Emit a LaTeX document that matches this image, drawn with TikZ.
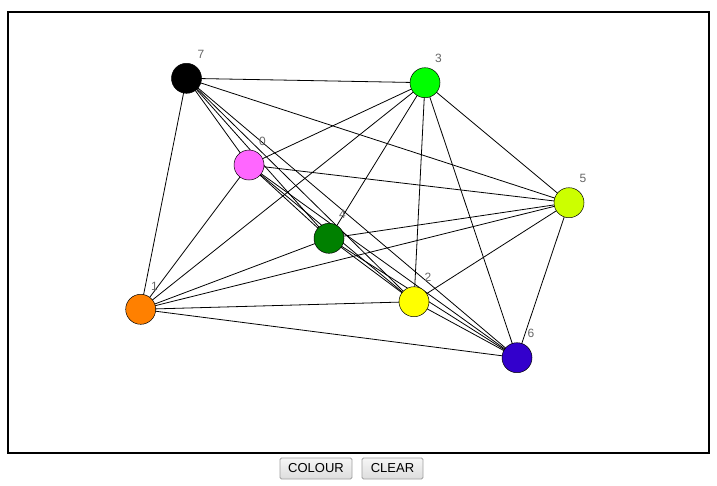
\documentclass[tikz,border=0pt]{standalone}
\usepackage{fontspec}
\setmainfont{Liberation Sans}
\usetikzlibrary{backgrounds}
\definecolor{c7}{HTML}{000000}
\definecolor{c3}{HTML}{00FF00}
\definecolor{c0}{HTML}{FF66FF}
\definecolor{c5}{HTML}{CCFF00}
\definecolor{c4}{HTML}{008000}
\definecolor{c2}{HTML}{FFFF00}
\definecolor{c1}{HTML}{FF8000}
\definecolor{c6}{HTML}{3300CC}
\definecolor{lblgray}{HTML}{666666}
\definecolor{btnborder}{HTML}{A0A0A0}
\definecolor{btntop}{HTML}{F6F6F6}
\definecolor{btnbot}{HTML}{DDDDDD}
\begin{document}
\begin{tikzpicture}[x=1pt,y=-1pt,
  vtx/.style={circle,draw=black,line width=0.5pt,minimum size=30pt,inner sep=0pt},
  vlabel/.style={text=lblgray,font=\fontsize{12}{12}\selectfont,inner sep=0pt},
  edge/.style={draw=black,line width=0.8pt},
  frame/.style={draw=black,line width=2pt},
  btn/.style={draw=btnborder,line width=0.8pt,rounded corners=1.5pt,top color=btntop,bottom color=btnbot,
    font=\fontsize{13}{13}\selectfont,text=black,inner sep=0pt,minimum height=21pt}]
\useasboundingbox (0,0) rectangle (717,485);
\node[frame,minimum width=701pt,minimum height=441pt,inner sep=0pt] (frm) at (358,232) {};
% vertices
\node[vtx,fill=c7] (n7) at (186.5,78.3) {};
\node[vtx,fill=c3] (n3) at (425,82.7) {};
\node[vtx,fill=c0] (n0) at (249,165) {};
\node[vtx,fill=c5] (n5) at (569,202.7) {};
\node[vtx,fill=c4] (n4) at (329,238.3) {};
\node[vtx,fill=c2] (n2) at (414,301.7) {};
\node[vtx,fill=c1] (n1) at (140.7,309.3) {};
\node[vtx,fill=c6] (n6) at (517,357.7) {};
% labels
\node[vlabel] (l7) at (201,54) {7};
\node[vlabel] (l3) at (438.5,58) {3};
\node[vlabel] (l0) at (262.5,141) {0};
\node[vlabel] (l5) at (583,178) {5};
\node[vlabel] (l4) at (342.5,214) {4};
\node[vlabel] (l2) at (428,277) {2};
\node[vlabel] (l1) at (154.5,286) {1};
\node[vlabel] (l6) at (531,333) {6};
% edges
\begin{scope}[on background layer]
\foreach \a/\b in {7/3,7/5,7/1,7/0,7/4,7/2,7/6,
                   3/0,3/1,3/4,3/2,3/6,3/5,
                   0/5,0/1,0/4,0/2,0/6,
                   5/4,5/1,5/2,5/6,
                   4/1,4/2,4/6,
                   1/2,1/6,
                   2/6}
  \draw[edge] (n\a.center) -- (n\b.center);
\end{scope}
% buttons
\node[btn,minimum width=72pt] (bcolour) at (316,468.5) {COLOUR};
\node[btn,minimum width=61pt] (bclear) at (392.5,468.5) {CLEAR};
\end{tikzpicture}
\end{document}
